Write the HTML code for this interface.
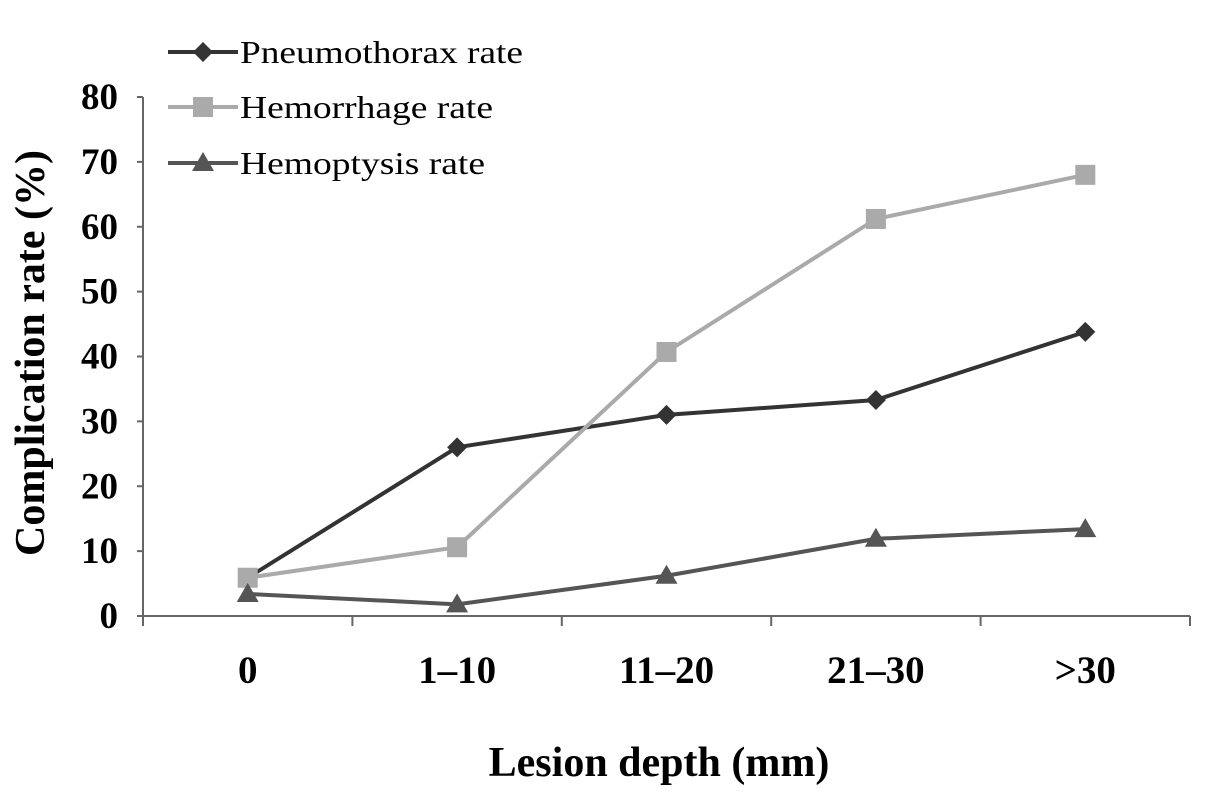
<!DOCTYPE html>
<html><head><meta charset="utf-8"><style>
html,body{margin:0;padding:0;background:#fff}
svg{display:block}
text{font-family:"Liberation Serif",serif}
</style></head><body>
<svg id="chart" width="1205" height="795" viewBox="0 0 1205 795"></svg>
<script>
const categories=["0","1\u201310","11\u201320","21\u201330",">30"];
const pneumothorax=[5.9,26,31,33.3,43.8];
const hemorrhage=[5.9,10.6,40.7,61.2,68];
const hemoptysis=[3.4,1.8,6.2,11.9,13.4];
const yTicks=[0,10,20,30,40,50,60,70,80];
const NS="http://www.w3.org/2000/svg";
const svg=document.getElementById('chart');
const x0=143,x1=1190,y0=616,y80=97;
const bw=(x1-x0)/categories.length;
function xs(i){return x0+bw*(i+0.5);}
function ys(v){return y0-(y0-y80)*v/80;}
function mk(t,a,p){const e=document.createElementNS(NS,t);for(const k in a)e.setAttribute(k,a[k]);(p||svg).appendChild(e);return e;}
let ax=mk('line',{x1:x0,y1:y0,x2:x1,y2:y0,stroke:'#666','stroke-width':2});


let ay=mk('line',{x1:x0,y1:y80,x2:x0,y2:y0,stroke:'#666','stroke-width':2});


yTicks.forEach(v=>{
 mk('line',{x1:x0-6,y1:ys(v),x2:x0,y2:ys(v),stroke:'#666','stroke-width':2});
 const t=mk('text',{x:118,y:ys(v)+12,'text-anchor':'end','font-size':37,'font-weight':'bold',fill:'#000'});
 t.textContent=v;
 
 
});
for(let i=0;i<=categories.length;i++){mk('line',{x1:x0+bw*i,y1:y0,x2:x0+bw*i,y2:y0+10,stroke:'#666','stroke-width':2});}
categories.forEach((c,i)=>{
 const t=mk('text',{x:xs(i),y:683,'text-anchor':'middle','font-size':39,'font-weight':'bold',fill:'#000'});
 t.textContent=c;
 
 
});
const yt=mk('text',{x:0,y:0,transform:'translate(44,353) rotate(-90)','text-anchor':'middle','font-size':42,'font-weight':'bold',fill:'#000'});
yt.textContent='Complication rate (%)';


const xt=mk('text',{x:659,y:776,'text-anchor':'middle','font-size':42,'font-weight':'bold',fill:'#000'});
xt.textContent='Lesion depth (mm)';


function marker(shape,cx,cy,col,g){
 if(shape==='d')return mk('polygon',{points:`${cx},${cy-10} ${cx+10},${cy} ${cx},${cy+10} ${cx-10},${cy}`,fill:col},g);
 if(shape==='s')return mk('rect',{x:cx-10,y:cy-10,width:20,height:20,fill:col},g);
 return mk('polygon',{points:`${cx},${cy-11} ${cx+11},${cy+8} ${cx-11},${cy+8}`,fill:col},g);
}
const series=[
 {name:'Pneumothorax rate',d:pneumothorax,col:'#333',sh:'d',ly:52,tl:283},
 {name:'Hemorrhage rate',d:hemorrhage,col:'#aaa',sh:'s',ly:107,tl:253},
 {name:'Hemoptysis rate',d:hemoptysis,col:'#555',sh:'t',ly:163,tl:245}];
series.forEach(s=>{
 const g=mk('g',{});
 
 
 mk('polyline',{points:s.d.map((v,i)=>xs(i)+','+ys(v)).join(' '),fill:'none',stroke:s.col,'stroke-width':4},g);
 s.d.forEach((v,i)=>{const m=marker(s.sh,xs(i),ys(v),s.col,g);
  
  });
 const lg=mk('g',{});
 
 
 mk('line',{x1:168,y1:s.ly,x2:238,y2:s.ly,stroke:s.col,'stroke-width':4},lg);
 marker(s.sh,203,s.ly,s.col,lg);
 const t=mk('text',{x:240,y:s.ly+11,'font-size':32,fill:'#000',textLength:s.tl,lengthAdjust:'spacingAndGlyphs'},lg);
 t.textContent=s.name;
});
</script>
</body></html>
